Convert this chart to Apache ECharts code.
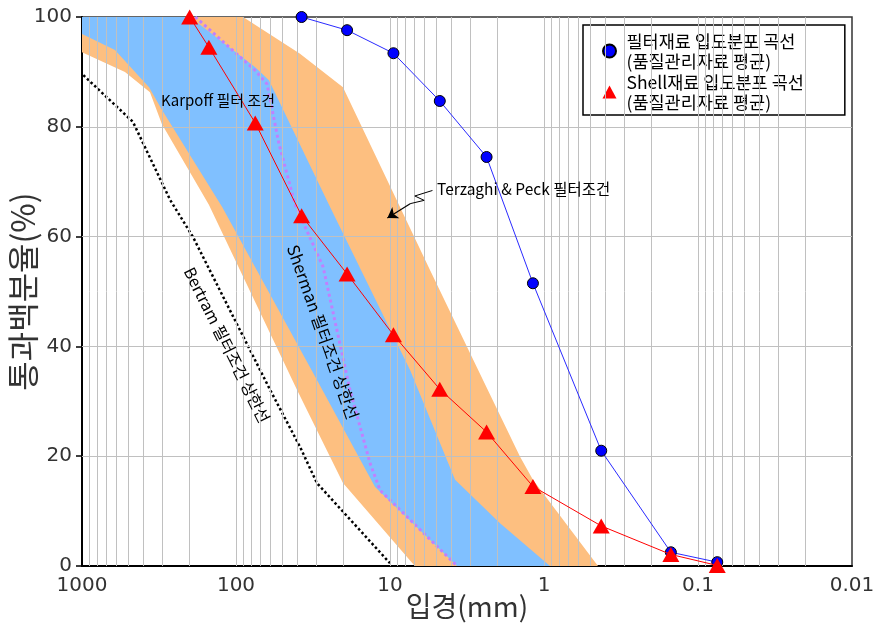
<!DOCTYPE html>
<html><head><meta charset="utf-8">
<script src="https://cdn.jsdelivr.net/npm/echarts@6/dist/echarts.min.js"></script>
<style>html,body{margin:0;padding:0;background:#fff}#c{width:876px;height:626px}</style>
</head><body><div id="c"></div>
<script>
// ---- data (particle size in mm, percent passing) ----
const FILTER_NAME = '필터재료 입도분포 곡선\n(품질관리자료 평균)';
const SHELL_NAME = 'Shell재료 입도분포 곡선\n(품질관리자료 평균)';
const FILTER_SIZE = [37.5, 19, 9.5, 4.75, 2.36, 1.18, 0.425, 0.15, 0.075];
const FILTER_PASS = [100, 97.6, 93.4, 84.7, 74.5, 51.5, 21, 2.5, 0.7];
const SHELL_SIZE = [200, 150, 75, 37.5, 19, 9.5, 4.75, 2.36, 1.18, 0.425, 0.15, 0.075];
const SHELL_PASS = [100, 94.5, 80.7, 63.8, 53.2, 42.1, 32.2, 24.4, 14.5, 7.3, 2.1, 0.1];
// Terzaghi & Peck band (orange)
const TP_LEFT = [[1000, 93.6], [526, 90.0], [362, 86.3], [303, 80.5], [150, 65.8], [40.2, 32.1], [20.2, 15.1], [6.9, 0]];
const TP_RIGHT = [[90, 100], [38.4, 93.3], [20.2, 87.2], [5.5, 53.9], [2.49, 33.9], [1.43, 19.9], [1.18, 15.7], [0.446, 0]];
// Karpoff band (blue)
const KP_LEFT = [[1000, 96.9], [611, 94.0], [367, 87.2], [303, 83.1], [123, 65.4], [29.8, 33.9], [12.5, 14.4], [3.67, 0]];
const KP_RIGHT = [[199, 100], [75.3, 90.9], [61.1, 88.5], [24.5, 65.4], [7.41, 35.7], [3.78, 15.7], [1.93, 7.8], [0.914, 0]];
// Sherman upper limit (purple dotted)
const SHERMAN = [[184, 100], [75.3, 90.3], [62.9, 87.8], [52.6, 76.9], [41.4, 65.9], [27.2, 54.5], [18.2, 32.1], [13.5, 18.8], [11.6, 13.8], [3.67, 0]];
// Bertram upper limit (black dotted)
const BERTRAM = [[980, 89.4], [467, 80.9], [268, 66.7], [190, 59.9], [60.1, 32.1], [38.4, 21.7], [29.8, 15.1], [10, 0.5]];
// annotation arrow for Terzaghi label
const ARROW = [[5.3, 68.4], [6.9, 67.4], [6.0, 66.6], [7.4, 66.0], [10.4, 63.4]];
const X_MIN = 0.01, X_MAX = 1000;
const Y_GRID = [20, 40, 60, 80];
const X_GRID = [];
for (let k = -2; k <= 2; k++) for (let m = 1; m <= 9; m++) {
  const v = +(m * Math.pow(10, k)).toPrecision(6);
  if (v > X_MIN && v < X_MAX) X_GRID.push(v);
}

const KR = "'Noto Sans CJK KR', sans-serif";
const NUM = "'DejaVu Sans', sans-serif";

function polygonSeries(poly, color, z) {
  return {
    type: 'custom', z: z, silent: true, animation: false,
    data: [[1, 50]],
    renderItem: function (params, api) {
      return { type: 'polygon', shape: { points: poly.map(p => api.coord(p)) }, style: { fill: color } };
    }
  };
}

const orangePoly = [[X_MAX, 100]].concat(TP_RIGHT, TP_LEFT.slice().reverse());
const bluePoly = [[X_MAX, 100]].concat(KP_RIGHT, KP_LEFT.slice().reverse());

const chart = echarts.init(document.getElementById('c'));
chart.setOption({
  animation: false,
  grid: { left: 82, right: 24, top: 17, bottom: 60, containLabel: false, outerBoundsMode: 'none',
    show: true, borderColor: '#333', borderWidth: 1.5, backgroundColor: 'transparent' },
  xAxis: {
    type: 'log', inverse: true, min: X_MIN, max: X_MAX, logBase: 10,
    name: '입경(mm)', nameLocation: 'middle', nameGap: 26, nameMoveOverlap: false,
    nameTextStyle: { fontFamily: KR, fontSize: 28, color: '#333' },
    axisLine: { lineStyle: { color: '#000', width: 2 } },
    axisTick: { show: false },
    splitLine: { show: false }, minorSplitLine: { show: false },
    axisLabel: { fontFamily: NUM, fontSize: 20, color: '#333', margin: 10, showMinLabel: true, showMaxLabel: true,
      formatter: v => String(+(+v).toPrecision(6)) }
  },
  yAxis: {
    type: 'value', min: 0, max: 100, interval: 20,
    name: '통과백분율(%)', nameLocation: 'middle', nameGap: 43, nameMoveOverlap: false,
    nameTextStyle: { fontFamily: KR, fontSize: 32, color: '#333' },
    axisLine: { show: true, lineStyle: { color: '#000', width: 2 } },
    axisTick: { show: true, length: 6, lineStyle: { color: '#000', width: 1.5 } },
    splitLine: { show: false },
    axisLabel: { fontFamily: NUM, fontSize: 20, color: '#333', margin: 10 }
  },
  legend: {
    left: 583, top: 25, orient: 'vertical',
    backgroundColor: '#fff', borderColor: '#000', borderWidth: 1.5,
    padding: [6, 41, 3, 19], itemGap: 1, itemWidth: 24, itemHeight: 13,
    textStyle: { fontFamily: KR, fontSize: 17.5, lineHeight: 20, color: '#000' },
    data: [
      { name: FILTER_NAME, icon: 'circle' },
      { name: SHELL_NAME, icon: 'path://M7,0L14,13L0,13Z' }
    ]
  },
  graphic: [
    { type: 'text', x: 218, y: 100, z: 100, style: { text: 'Karpoff 필터 조건', font: '15px ' + KR, fill: '#000', align: 'center', verticalAlign: 'middle' } },
    { type: 'text', x: 437, y: 189, z: 100, style: { text: 'Terzaghi & Peck 필터조건', font: '15.5px ' + KR, fill: '#000', align: 'left', verticalAlign: 'middle' } },
    { type: 'text', x: 323, y: 332, z: 100, rotation: -70.6 * Math.PI / 180, style: { text: 'Sherman 필터조건 상한선', font: '16.5px ' + KR, fill: '#000', align: 'center', verticalAlign: 'middle' } },
    { type: 'text', x: 227, y: 345, z: 100, rotation: -63.4 * Math.PI / 180, style: { text: 'Bertram 필터조건 상한선', font: '16px ' + KR, fill: '#000', align: 'center', verticalAlign: 'middle' } }
  ],
  series: [
    polygonSeries(orangePoly, '#fdbf80', 1),
    polygonSeries(bluePoly, '#80c0ff', 2),
    {
      type: 'line', z: 3, data: [], silent: true,
      markLine: {
        silent: true, symbol: 'none', animation: false, label: { show: false },
        lineStyle: { color: '#c0c0c0', width: 1, type: 'solid' },
        emphasis: { disabled: true },
        data: X_GRID.map(v => ({ xAxis: v })).concat(Y_GRID.map(v => ({ yAxis: v })))
      }
    },
    {
      type: 'line', z: 4, silent: true, symbol: 'none', data: BERTRAM,
      lineStyle: { color: '#000', width: 2.5, type: [2.5, 2.5] }
    },
    {
      type: 'line', z: 4, silent: true, symbol: 'none', data: SHERMAN,
      lineStyle: { color: '#c080ff', width: 3, type: [3, 3] }
    },
    {
      type: 'line', z: 5, silent: true, symbol: 'none', data: ARROW.slice(0, -1),
      lineStyle: { color: '#000', width: 1 }
    },
    {
      type: 'lines', coordinateSystem: 'cartesian2d', z: 5, silent: true,
      symbol: ['none', 'arrow'], symbolSize: [8, 10],
      lineStyle: { color: '#000', width: 1.2, opacity: 1 },
      data: [{ coords: ARROW.slice(-2) }]
    },
    {
      name: FILTER_NAME, type: 'line', z: 6,
      data: FILTER_SIZE.map((d, i) => [d, FILTER_PASS[i]]),
      symbol: 'circle', symbolSize: 11,
      itemStyle: { color: '#0000ff', borderColor: '#000', borderWidth: 1 },
      lineStyle: { color: '#2a2aff', width: 1 }
    },
    {
      name: SHELL_NAME, type: 'line', z: 7,
      data: SHELL_SIZE.map((d, i) => [d, SHELL_PASS[i]]),
      symbol: 'triangle', symbolSize: [17, 15],
      itemStyle: { color: '#ff0000' },
      lineStyle: { color: '#ff0000', width: 1 }
    }
  ]
});
</script>
</body></html>
